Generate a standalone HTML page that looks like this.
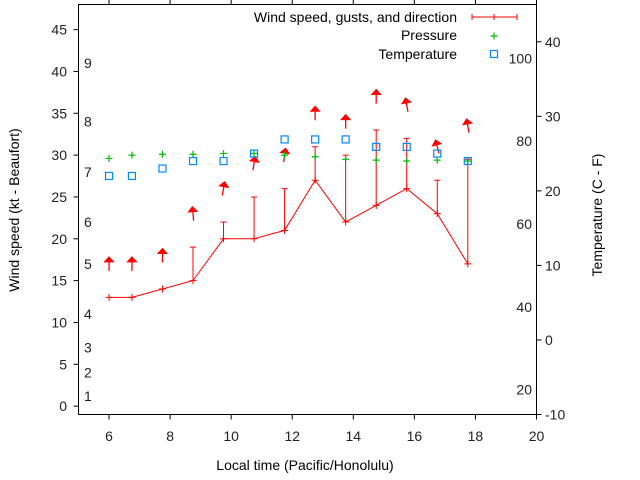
<!DOCTYPE html>
<html><head><meta charset="utf-8"><style>
html,body{margin:0;padding:0;background:#fff}
svg{display:block;font-family:"Liberation Sans",sans-serif}
</style></head><body>
<svg id="chart" width="640" height="480" viewBox="0 0 640 480" xmlns="http://www.w3.org/2000/svg">
<g id="axes"></g>
<g id="marks"></g>
<g id="legend">
<text x="457" y="22" text-anchor="end" font-size="14" fill="#000">Wind speed, gusts, and direction</text>
<line x1="472" y1="17" x2="517" y2="17" stroke="#f00" stroke-width="1"/>
<line x1="472" y1="14" x2="472" y2="20" stroke="#f00"/>
<line x1="517" y1="14" x2="517" y2="20" stroke="#f00"/>
<line x1="494" y1="14" x2="494" y2="20" stroke="#f00"/>
<text x="457" y="40" text-anchor="end" font-size="14" fill="#000">Pressure</text>
<path d="M490.5 36h7M494 32.5v7" stroke="#0b0" stroke-width="1.2"/>
<text x="457" y="59" text-anchor="end" font-size="14" fill="#000">Temperature</text>
<rect x="490.5" y="50.5" width="7" height="7" fill="none" stroke="#08f" stroke-width="1.2"/>
</g>
<text x="305" y="470" text-anchor="middle" font-size="14">Local time (Pacific/Honolulu)</text>
<text transform="translate(19,210) rotate(-90)" text-anchor="middle" font-size="14">Wind speed (kt - Beaufort)</text>
<text transform="translate(602,215) rotate(-90)" text-anchor="middle" font-size="14">Temperature (C - F)</text>
</svg>
<script>
const times = [6, 6.75, 7.75, 8.75, 9.75, 10.75, 11.75, 12.75, 13.75, 14.75, 15.75, 16.75, 17.75];
const windSpeed = [13, 13, 14, 15, 20, 20, 21, 27, 22, 24, 26, 23, 17];
const windGust = [13, 13, 14, 19, 22, 25, 26, 31, 30, 33, 32, 27, 29.5];
const windDirTilt = [0, 0, 0, -5, 10, 10, 8, 0, 0, 0, -10, -15, -10];
const pressure = [29.6, 30.0, 30.1, 30.1, 30.2, 30.2, 30.0, 29.8, 29.5, 29.4, 29.3, 29.4, 29.3];
const temperatureC = [22, 22, 23, 24, 24, 25, 26.9, 26.9, 26.9, 25.9, 25.9, 25, 24];
const xTicks = [6, 8, 10, 12, 14, 16, 18, 20];
const yTicks = [0, 5, 10, 15, 20, 25, 30, 35, 40, 45];
const y2Ticks = [-10, 0, 10, 20, 30, 40];
const beaufortLabels = ["1","2","3","4","5","6","7","8","9"];
const beaufortKnots = [1.2, 4, 7, 11, 17, 22, 28, 34, 41];
const fahrenheitTicks = [20, 40, 60, 80, 100];

const L=78.5,R=536.5,T=4.5,B=414.5;
const X=t=>L+(t-5)/(20-5)*(R-L);
const Y=v=>B-(v+1)/(48+1)*(B-T);
const Y2=c=>B-(c+10)/(45+10)*(B-T);
const NS="http://www.w3.org/2000/svg";
function mk(parent,tag,attrs){const e=document.createElementNS(NS,tag);for(const k in attrs)e.setAttribute(k,attrs[k]);parent.appendChild(e);return e;}
const ax=document.getElementById('axes'), mg=document.getElementById('marks');

let fr=mk(ax,'rect',{x:L,y:T,width:R-L,height:B-T,fill:'none',stroke:'#000','stroke-width':1});


xTicks.forEach(t=>{
  let l=mk(ax,'path',{d:`M${X(t)} ${B}v5M${X(t)} ${T}v-5`,stroke:'#000'});
  
  
  let s=mk(ax,'text',{x:X(t),y:441,'text-anchor':'middle','font-size':14,fill:'#222'});s.textContent=t;
  
  
});
yTicks.forEach(v=>{
  let l=mk(ax,'path',{d:`M${L} ${Y(v)}h-5`,stroke:'#000'});
  
  
  let s=mk(ax,'text',{x:67,y:Y(v)+5,'text-anchor':'end','font-size':14,fill:'#222'});s.textContent=v;
  
  
});
y2Ticks.forEach(v=>{
  let l=mk(ax,'path',{d:`M${R} ${Y2(v)}h5`,stroke:'#000'});
  
  
  let s=mk(ax,'text',{x:545,y:Y2(v)+5,'font-size':14,fill:'#222'});s.textContent=v;
  
  
});
beaufortLabels.forEach((b,i)=>{
  let s=mk(ax,'text',{x:84,y:Y(beaufortKnots[i])+5,'font-size':14,fill:'#222'});s.textContent=b;
  
  
});
fahrenheitTicks.forEach(f=>{
  let s=mk(ax,'text',{x:532,y:Y2((f-32)*5/9)+5,'text-anchor':'end','font-size':14,fill:'#222'});s.textContent=f;
  
  
});

// gust error bars
times.forEach((t,i)=>{
  if(windGust[i]>windSpeed[i]){
    let g=mk(mg,'path',{d:`M${X(t)} ${Y(windSpeed[i])}V${Y(windGust[i])}M${X(t)-3} ${Y(windGust[i])}h6`,stroke:'#f00',fill:'none'});
    
    
  }
});
let pl=mk(mg,'polyline',{points:times.map((t,i)=>X(t)+','+Y(windSpeed[i])).join(' '),fill:'none',stroke:'#f00','stroke-width':1});


times.forEach((t,i)=>{
  let p=mk(mg,'path',{d:`M${X(t)-3.5} ${Y(windSpeed[i])}h7M${X(t)} ${Y(windSpeed[i])-3.5}v7`,stroke:'#f00'});
  
  
  // direction arrow centered at gust+4
  const cx=X(t), cy=Y(windGust[i]+4);
  let a=mk(mg,'g',{transform:`translate(${cx},${cy}) rotate(${windDirTilt[i]})`});
  
  
  mk(a,'path',{d:'M0 7V-4',stroke:'#f00','stroke-width':1.3});
  mk(a,'path',{d:'M-4.5 -2L0 -7L4.5 -2Z',fill:'#f00',stroke:'#f00'});
  let pr=mk(mg,'path',{d:`M${X(t)-3.5} ${Y(pressure[i])}h7M${X(t)} ${Y(pressure[i])-3.5}v7`,stroke:'#0b0','stroke-width':1.2});
  
  
  let sq=mk(mg,'rect',{x:X(t)-3.5,y:Y2(temperatureC[i])-3.5,width:7,height:7,fill:'none',stroke:'#08f','stroke-width':1.2});
  
  
});
</script>
</body></html>
